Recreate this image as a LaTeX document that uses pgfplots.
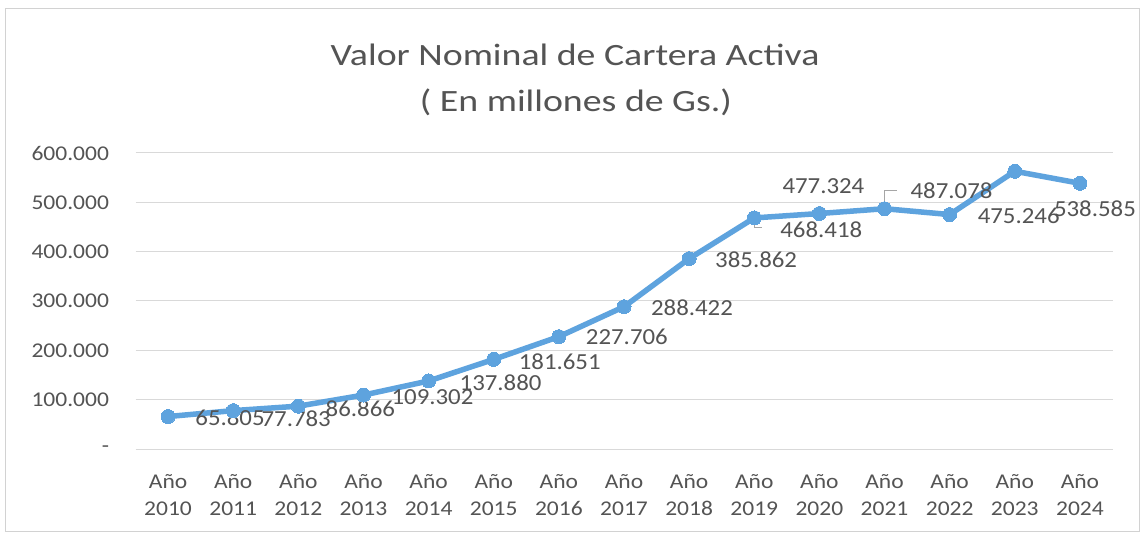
\documentclass[border=0pt]{standalone}
\usepackage{pgfplots}
\pgfplotsset{compat=1.18}
\usepackage{pgfplotstable}
\usepackage{fontspec}
\setmainfont{Carlito}[FakeStretch=1.12]
\newfontfamily\titlefont{Carlito}[FakeStretch=1.22]
\newfontfamily\labelfont{Carlito}[FakeStretch=1.08]
\definecolor{lineblue}{RGB}{94,163,222}
\definecolor{txtgray}{RGB}{84,84,84}
\definecolor{gridgray}{RGB}{217,217,217}

\pgfplotstableread{
x y lbl dx dy
0 65805 65.805 62 -1
1 77783 77.783 63 -8
2 86866 86.866 62 -3
3 109302 109.302 69 -2
4 137880 137.880 72 -2
5 181651 181.651 66 -2
6 227706 227.706 68 0
7 288422 288.422 68 -1
8 385862 385.862 67 -1
9 468418 468.418 67 -12
10 477324 477.324 4 27
11 487078 487.078 67 18
12 475246 475.246 69 -1
13 563000 {} 0 0
14 538585 538.585 15 -25
}\datatable

\begin{document}
\begin{tikzpicture}
\useasboundingbox (0,0) rectangle (1144bp,538bp);
\fill[white] (0,0) rectangle (1144bp,538bp);
\draw[gray!35, line width=1bp] (5bp,6bp) rectangle (1139bp,529bp);
\begin{axis}[
  at={(135.5bp,89bp)}, anchor=south west,
  scale only axis, width=977bp, height=296bp,
  xmin=-0.5, xmax=14.5, ymin=0, ymax=600000,
  axis line style={draw=none},
  major tick length=0pt,
  ymajorgrids, grid style={gridgray, line width=1bp},
  ytick={0,100000,200000,300000,400000,500000,600000},
  yticklabels={-,100.000,200.000,300.000,400.000,500.000,600.000},
  xtick={0,...,14},
  xticklabels={A\~no\\2010,A\~no\\2011,A\~no\\2012,A\~no\\2013,A\~no\\2014,A\~no\\2015,A\~no\\2016,A\~no\\2017,A\~no\\2018,A\~no\\2019,A\~no\\2020,A\~no\\2021,A\~no\\2022,A\~no\\2023,A\~no\\2024},
  tick label style={font=\fontsize{21bp}{27bp}\selectfont, text=txtgray},
  yticklabel style={xshift=-23bp},
  xticklabel style={align=center, yshift=-22bp},
  scaled y ticks=false,
  /pgf/number format/assume math mode=true,
  clip=false,
]
\addplot[lineblue, line width=5.5bp, mark=*, mark size=7bp,
  mark options={fill=lineblue, draw=lineblue, line width=0pt},
  point meta=explicit symbolic, nodes near coords,
  visualization depends on={\thisrow{dx} \as \mydx},
  visualization depends on={\thisrow{dy} \as \mydy},
  every node near coord/.append style={anchor=center, xshift=\mydx bp, yshift=\mydy bp,
    font=\labelfont\fontsize{23bp}{27bp}\selectfont, text=txtgray, inner sep=0pt},
] table[x=x, y=y, meta=lbl] {\datatable};
\draw[gray!70, line width=1bp] ([yshift=6bp]axis cs:11,487078) -- ++(0bp,12bp) -- ++(12bp,0bp);
\draw[gray!70, line width=1bp] ([yshift=-3bp]axis cs:9,468418) -- ++(0bp,-7bp) -- ++(8bp,0bp);
\end{axis}
\node[font=\titlefont\fontsize{31bp}{36bp}\selectfont, text=txtgray] at (575bp,483bp) {Valor Nominal de Cartera Activa};
\node[font=\titlefont\fontsize{31bp}{36bp}\selectfont, text=txtgray] at (576bp,436bp) {( En millones de Gs.)};
\end{tikzpicture}
\end{document}
